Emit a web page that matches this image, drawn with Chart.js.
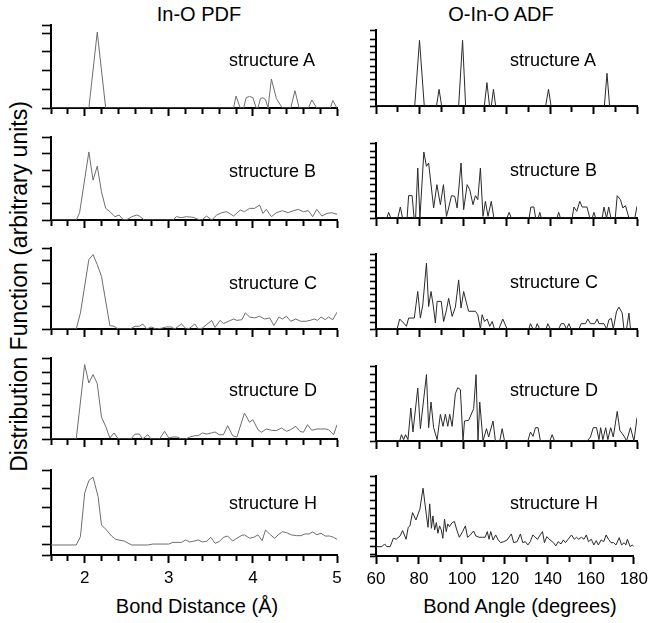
<!DOCTYPE html>
<html>
<head>
<meta charset="utf-8">
<script src="https://cdn.jsdelivr.net/npm/chart.js@4.4.0/dist/chart.umd.min.js"></script>
<style>
  html, body { margin: 0; padding: 0; background: #fff; }
  #page { position: relative; width: 653px; height: 623px; overflow: hidden;
          font-family: "Liberation Sans", Arial, sans-serif; color: #000; }
  #page canvas { position: absolute; }
  .txt { position: absolute; white-space: nowrap; line-height: 1; }
</style>
</head>
<body>
<div id="page">
<div class="txt" style="left:119px; width:160px; top:4px; font-size:20px; text-align:center;">In-O PDF</div>
<div class="txt" style="left:421px; width:160px; top:4px; font-size:20px; text-align:center;">O-In-O ADF</div>
<div class="txt" style="left:97px; width:200px; top:596px; font-size:20px; text-align:center;">Bond Distance (Å)</div>
<div class="txt" style="left:410px; width:220px; top:596px; font-size:20px; text-align:center;">Bond Angle (degrees)</div>
<div class="txt" style="left:-181px; width:400px; top:275px; height:23px; font-size:23px; text-align:center; transform:rotate(-90deg);">Distribution Function (arbitrary units)</div>
</div>
<script>
document.addEventListener('DOMContentLoaded', () => {
	/************  DATA  ************/
	// tick labels
	const pdfTicks = [2, 3, 4, 5];
	const adfTicks = [60, 80, 100, 120, 140, 160, 180];
	const structures = ['A', 'B', 'C', 'D', 'H'];

	// In-O PDF, [distance, value]
	const pdfA = [[1.6,0],[2.05,0],[2.15,4.06],[2.25,0],[3.77,0],[3.8,0.64],[3.85,0],[3.89,0],[3.92,0.55],[3.96,0.62],[4.0,0.55],[4.04,0],[4.06,0],[4.09,0.5],[4.12,0.55],[4.15,0.45],[4.18,0],[4.22,1.55],[4.28,0.5],[4.35,0],[4.45,0],[4.5,0.93],[4.55,0],[4.66,0],[4.7,0.43],[4.76,0],[4.92,0],[4.95,0.4],[5.0,0]];
	const pdfB = [[1.6,0],[1.9,0],[1.94,0.44],[2.05,4.1],[2.1,2.4],[2.15,3.24],[2.2,1.7],[2.25,0.7],[2.3,0.5],[2.36,0.2],[2.41,0.3],[2.46,0],[2.51,0.04],[2.56,0.2],[2.62,0.3],[2.65,0.24],[2.71,0],[3.05,0],[3.09,0.2],[3.15,0.14],[3.21,0.2],[3.29,0.16],[3.35,0.04],[3.39,0],[3.45,0.24],[3.51,0],[3.57,0.3],[3.63,0.44],[3.69,0.5],[3.77,0.24],[3.85,0.6],[3.9,0.5],[3.96,0.7],[4.02,0.7],[4.08,0.9],[4.12,0.4],[4.16,0.64],[4.22,0.2],[4.28,0.44],[4.35,0.56],[4.42,0.44],[4.48,0.56],[4.54,0.64],[4.6,0.5],[4.66,0.56],[4.71,0.2],[4.76,0.64],[4.82,0.24],[4.88,0.4],[4.94,0.44],[5.0,0.34]];
	const pdfC = [[1.6,0],[1.9,0],[1.95,0.71],[2.05,3.06],[2.1,3.28],[2.15,2.84],[2.2,2.32],[2.3,0.15],[2.35,0.12],[2.4,0],[2.54,0],[2.6,0.12],[2.65,0.12],[2.69,0.22],[2.74,0],[2.79,0.09],[2.85,0],[2.91,0.03],[2.97,0.09],[3.03,0.09],[3.07,0],[3.15,0.22],[3.21,0],[3.25,0.04],[3.31,0.22],[3.35,0],[3.4,0.04],[3.51,0.38],[3.55,0.07],[3.61,0.38],[3.65,0.24],[3.71,0.34],[3.77,0.44],[3.81,0.38],[3.87,0.41],[3.91,0.71],[3.96,0.53],[4.02,0.49],[4.08,0.56],[4.14,0.44],[4.2,0.49],[4.25,0.15],[4.31,0.53],[4.35,0.44],[4.4,0.56],[4.45,0.34],[4.51,0.44],[4.57,0.34],[4.63,0.34],[4.68,0.38],[4.73,0.44],[4.77,0.38],[4.81,0.53],[4.86,0.41],[4.9,0.53],[4.95,0.41],[5.0,0.74]];
	const pdfD = [[1.6,0],[1.9,0],[2.0,6.76],[2.05,5.09],[2.1,5.85],[2.15,5.03],[2.2,2.0],[2.25,1.15],[2.3,0.09],[2.35,0.55],[2.4,0],[2.55,0],[2.6,0.45],[2.65,0.45],[2.69,0],[2.75,0.39],[2.79,0],[2.89,0],[2.95,0.7],[3.0,0.09],[3.05,0.18],[3.1,0.18],[3.15,0],[3.2,0],[3.25,0.18],[3.31,0.3],[3.35,0.3],[3.4,0.55],[3.45,0.45],[3.51,0.55],[3.55,0.64],[3.6,0.39],[3.65,0.39],[3.7,1.21],[3.76,0.3],[3.81,0.18],[3.9,2.36],[3.96,1.52],[4.0,1.76],[4.06,0.85],[4.1,0.61],[4.16,0.91],[4.22,0.79],[4.28,0.76],[4.34,1.0],[4.4,0.7],[4.45,0.85],[4.51,1.15],[4.56,0.7],[4.6,0.61],[4.65,1.3],[4.7,0.79],[4.76,0.91],[4.81,0.91],[4.86,0.91],[4.9,0.85],[4.96,0.39],[5.0,1.3]];
	const pdfH = [[1.6,0],[1.9,0],[1.95,0.45],[2.0,2.77],[2.05,3.45],[2.1,3.63],[2.16,2.59],[2.2,1.07],[2.26,0.8],[2.32,0.48],[2.37,0.3],[2.47,0.21],[2.56,0],[2.75,0],[2.81,0.05],[3.0,0.05],[3.05,0.14],[3.15,0.14],[3.2,0.27],[3.25,0.16],[3.3,0.21],[3.35,0.27],[3.4,0.16],[3.45,0.2],[3.5,0.41],[3.55,0.09],[3.6,0.18],[3.65,0.41],[3.7,0.48],[3.76,0.21],[3.81,0.36],[3.87,0.52],[3.9,0.54],[3.96,0.36],[4.01,0.41],[4.06,0.54],[4.11,0.23],[4.15,0.8],[4.21,0.54],[4.26,0.36],[4.3,0.54],[4.35,0.71],[4.4,0.66],[4.46,0.54],[4.52,0.5],[4.57,0.5],[4.62,0.59],[4.67,0.59],[4.71,0.7],[4.76,0.55],[4.81,0.63],[4.86,0.48],[4.91,0.48],[4.96,0.41],[5.0,0.3]];

	// O-In-O ADF, [angle, value]
	const adfA = [[60,0],[77.8,0],[80,9.85],[82.2,0],[87.8,0],[89,2.5],[90.2,0],[98,0],[99.8,9.85],[101.2,0],[109.8,0],[111,3.5],[112.2,0],[113,0],[114,2.5],[115,0],[138,0],[139.3,2.5],[140.5,0],[165,0],[166.2,4.9],[167.4,0],[180,0]];
	const adfB = [[60,0],[65,0],[65.8,0.85],[66.8,0],[70,0],[71.2,1.65],[72.2,0],[74.3,0],[75,3.35],[76.6,3.35],[77.5,0],[78.2,0],[79.2,7.5],[80.2,0],[82,9.9],[83.2,7.75],[84.2,8.25],[86.5,1.5],[88,5],[89.6,2],[91,5],[92.4,0.25],[93.4,1.5],[94.7,3.35],[96.2,3.25],[97.3,1.5],[99.1,8.25],[100.3,1.25],[101.9,5],[103.1,4.25],[104.6,2],[105.7,3.35],[106.8,2.75],[108,7.5],[109.2,0.25],[110.3,2.5],[111.5,0.25],[113,2.5],[114.2,0],[120.2,0],[121.2,0.85],[122.2,0],[130.4,0],[131.2,1.65],[132.6,1.65],[133.4,0],[134.6,0],[135.3,0.85],[136,0],[143.2,0],[144,0.85],[144.8,0],[150.2,0],[151,1.65],[152.3,1],[153.7,2.5],[154.8,1.65],[157,1.65],[158.3,0],[159.4,0],[160.2,0.85],[161,0],[164,0],[164.8,1.65],[166,0],[167,1.65],[168,0],[170,0],[170.9,3.35],[172.4,2.75],[173.5,1.5],[174.7,1.85],[176.3,0],[179,0],[180,1.75]];
	const adfC = [[60,0],[69.7,0],[70.9,1.46],[72.7,0.88],[74,0.39],[75,1.61],[77.6,1.61],[79.2,5.5],[80.4,1.6],[81.5,3.5],[83.2,9.66],[84.2,3.3],[85.3,5.5],[86.3,3.5],[87.3,0.88],[88.1,4.05],[90,4.05],[91.1,1.1],[92.4,2.8],[93.4,4.5],[95,1.85],[96.5,3.2],[98,7.2],[99.1,3.07],[100.3,5.5],[101.6,3.8],[102.6,2.6],[105.7,2.6],[106.8,2.1],[108,0],[108.8,2.1],[109.9,1.1],[111.1,1.46],[112.3,0.39],[113.4,1.1],[114.5,0],[116.5,0],[118.3,1.46],[120.3,0],[130.3,0],[131,0.78],[132.2,0],[133.3,0],[134.1,0.78],[135.3,0],[138.2,0],[139,0.78],[140.2,0],[144,0],[145.1,0.78],[146.4,0.78],[147.6,0],[148.7,0.78],[149.7,0],[153.3,0],[154.3,0.78],[156.3,0.78],[157.4,1.46],[158.6,0.78],[160.5,0.78],[161.7,1.46],[162.5,0.78],[164.8,0.78],[166,0],[167.1,1.37],[168.2,1.56],[169.1,0],[170.6,2.6],[171.7,3.2],[173.2,2.34],[174,0],[175.2,0],[176.3,2.34],[177,0],[180,0]];
	const adfD = [[60,0],[70.9,0],[71.7,0.76],[72.7,0.16],[73.6,0.76],[74.7,0.16],[76,3.96],[77,1.08],[79.2,6.36],[80.4,1.48],[83.2,7.96],[84.2,1.6],[85.3,4.68],[86.5,1.6],[88.1,0.16],[89.6,3.2],[90.8,1.76],[91.9,3.2],[93,1.76],[93.9,3.2],[95,1.76],[96.5,5.68],[97.6,6.4],[98.8,6.16],[100,0],[100.7,2.4],[102.6,2.48],[104.9,3.88],[106,7.96],[106.9,0.08],[107.7,4.68],[109.2,0],[110.8,1.48],[111.8,0.48],[113.8,2.4],[114.9,0],[116.9,0],[118,1.48],[119.1,0],[129.8,0],[131,1.08],[132.2,0.56],[133.3,1.6],[134.5,1.6],[135.6,0],[139.9,0],[141,0.76],[142.1,0],[157.1,0],[158.6,0.48],[159.9,1.6],[161.4,1.6],[162.5,0.16],[163.3,1.6],[164.3,0.16],[165.6,1.6],[166.6,0.16],[167.9,1.6],[169.1,0.48],[170.9,3.56],[172.1,1.28],[173.2,0.88],[174.3,0.48],[175.2,0],[177,1.6],[178.6,0],[180,2.8]];
	const adfH = [[60,0],[62.8,0],[64,0.35],[65,0],[66.6,0],[68.1,1.09],[69.4,0.96],[71.2,1.39],[72.4,2.09],[74,0.96],[75,2.52],[75.8,2.7],[77,4.43],[78.6,3.48],[80.4,4.87],[81.9,7.61],[83.5,4.0],[84.2,2.52],[85,5.57],[85.8,2.39],[86.5,4.0],[87.3,2.17],[88.1,3.13],[88.8,1.74],[89.6,2.7],[90.4,2.17],[91.1,1.09],[91.9,3.57],[92.7,1.96],[93.4,2.96],[94.2,2.61],[95.4,3.13],[96.5,3.26],[97.6,2.17],[98.8,1.22],[100.3,1.96],[101.6,2.7],[102.6,1.22],[103.9,1.52],[105.4,2.04],[106.5,1.39],[108,1.22],[109.6,1.22],[110.8,1.22],[111.8,1.96],[112.6,0.96],[113.4,1.96],[114.5,0.87],[115.7,1.52],[116.9,0.87],[118,0.52],[119.5,0.65],[121,0.87],[123,1.65],[124.1,0.52],[125.7,0.65],[127.2,1.65],[128.3,0.52],[129.5,0.65],[130.7,0.22],[131.8,0.65],[133,1.52],[134.1,1.22],[135.2,0.96],[136.4,1.52],[137.5,1.96],[138.4,0.52],[139.5,1.3],[141,0.87],[142.6,0.52],[143.7,0.09],[144.8,0.65],[146.1,0.35],[147.2,0.87],[148.2,0.52],[149.4,0.96],[151,1.52],[152.3,0.96],[153.3,1.22],[154.3,0.96],[155.6,1.22],[156.8,0.96],[157.9,1.52],[158.9,0.65],[160.2,0.96],[161.4,0.22],[162.5,0.78],[163.5,0.22],[164.8,0.87],[166,0.65],[167.1,1.52],[168.2,0.96],[169.4,0.52],[170.6,0.52],[171.7,0.22],[173.2,1.17],[174.3,0.22],[175.5,0.52],[176.3,0.22],[177,0.96],[178.3,0],[179.3,0.22],[180,0]];

	/************  LAYOUT  ************/
	// padL / padR: canvas margin left and right of the plot area
	const columns = {
		pdf: { left: 51, right: 337, padL: 20, padR: 18, xMin: 1.6, xMax: 5, minorStep: 0.2, yLen: 9, color: '#6e6e6e', ticks: pdfTicks, labelX: 229 },
		adf: { left: 376, right: 637, padL: 18, padR: 16, xMin: 60, xMax: 180, minorStep: 10, yLen: 6, color: '#2a2a2a', ticks: adfTicks, labelX: 510 },
	};

	const panels = [
		{ col: 'pdf', data: pdfA, yMin: 0, yMax: 4.44, top: 25, bottom: 108, base: 66.5 },
		{ col: 'pdf', data: pdfB, yMin: 0, yMax: 5, top: 137, bottom: 220, base: 176.7 },
		{ col: 'pdf', data: pdfC, yMin: 0, yMax: 3.57, top: 248, bottom: 329, base: 289.3 },
		{ col: 'pdf', data: pdfD, yMin: 0, yMax: 7.36, top: 358, bottom: 439, base: 396 },
		{ col: 'pdf', data: pdfH, yMin: -0.535, yMax: 4.01, top: 470, bottom: 555, base: 509.3, last: true },
		{ col: 'adf', data: adfA, yMin: 0, yMax: 11.4, top: 30, bottom: 106, base: 66 },
		{ col: 'adf', data: adfB, yMin: 0, yMax: 11.25, top: 143, bottom: 218, base: 176 },
		{ col: 'adf', data: adfC, yMin: 0, yMax: 11, top: 254, bottom: 329, base: 288.3 },
		{ col: 'adf', data: adfD, yMin: 0, yMax: 9, top: 366, bottom: 441, base: 396 },
		{ col: 'adf', data: adfH, yMin: -1.22, yMax: 9.2, top: 476, bottom: 556, base: 509.3, last: true },
	];

	const MT = 4;       // top margin
	const MB = 12;      // bottom margin (room for tick marks)
	const LABEL_H = 40; // x-scale height on the bottom row
	const TICK = 8;     // major x tick length

	const page = document.getElementById('page');
	const round3 = v => Math.round(v * 1000) / 1000;

	/************  BUILD PANELS  ************/
	const charts = [];
	panels.forEach(p => {
		const c = columns[p.col];
		const w = c.right - c.left;
		const h = p.bottom - p.top;

		// x: a mark at every minor step, a label only at c.ticks
		const n = Math.round((c.xMax - c.xMin) / c.minorStep);
		const xTickValues = [];
		for (let k = 0; k <= n; k++) xTickValues.push(round3(c.xMin + k * c.minorStep));
		const isMajor = v => c.ticks.includes(round3(v));

		// y: a mark at each whole unit, plus both ends of the axis
		const pxPerUnit = h / (p.yMax - p.yMin);
		const yTickValues = [p.yMin];
		for (let v = Math.ceil(p.yMin); v <= p.yMax; v++) {
			if (v > p.yMin && (p.yMax - v) * pxPerUnit > 5) yTickValues.push(v);
		}
		yTickValues.push(p.yMax);

		const xTickOpts = p.last
			? {
				display: true,
				padding: 5,
				color: '#000',
				font: { family: '"Liberation Sans", Arial, sans-serif', size: 17 },
				autoSkip: false,
				maxRotation: 0,
				callback: v => isMajor(v) ? String(round3(v)) : '',
			}
			: { display: false };

		const canvas = document.createElement('canvas');
		canvas.width = w + c.padL + c.padR;
		canvas.height = h + MT + (p.last ? LABEL_H + 2 : MB);
		canvas.style.left = (c.left - c.padL) + 'px';
		canvas.style.top = (p.top - MT) + 'px';
		page.appendChild(canvas);

		charts.push(new Chart(canvas, {
			type: 'line',
			data: {
				datasets: [{
					data: p.data.map(([x, y]) => ({ x, y })),
					borderColor: c.color,
					borderWidth: 1,
					pointRadius: 0,
				}],
			},
			options: {
				responsive: false,
				animation: false,
				events: [],
				layout: { padding: { left: c.padL, right: c.padR, top: MT, bottom: p.last ? 2 : MB - TICK } },
				plugins: {
					legend: { display: false },
					tooltip: { enabled: false },
				},
				scales: {
					x: {
						type: 'linear',
						min: c.xMin,
						max: c.xMax,
						grid: {
							drawOnChartArea: false,
							drawTicks: true,
							tickLength: TICK,
							tickWidth: 2,
							tickColor: '#000',
							// minor ticks: dash keeps only the first 5px
							tickBorderDash: ctx => (ctx.tick && isMajor(ctx.tick.value)) ? [] : [5, 40],
						},
						border: { color: '#000', width: 2 },
						ticks: xTickOpts,
						afterBuildTicks: s => { s.ticks = xTickValues.map(v => ({ value: v })); },
						afterFit: s => { s.height = p.last ? LABEL_H : TICK; },
					},
					y: {
						type: 'linear',
						min: p.yMin,
						max: p.yMax,
						grid: {
							drawOnChartArea: false,
							drawTicks: true,
							tickLength: c.yLen,
							tickWidth: 1.6,
							tickColor: '#000',
						},
						border: { color: '#000', width: 2 },
						ticks: { display: false },
						afterBuildTicks: s => { s.ticks = yTickValues.map(v => ({ value: v })); },
						afterFit: s => { s.width = 0; },
					},
				},
			},
		}));
	});

	// structure labels, added after all charts
	panels.forEach((p, i) => {
		const c = columns[p.col];
		const label = document.createElement('div');
		label.className = 'txt';
		label.style.fontSize = '18px';
		label.style.left = c.labelX + 'px';
		label.style.top = (p.base - 15.2) + 'px';
		label.textContent = 'structure ' + structures[i % 5];
		page.appendChild(label);
	});
});
</script>
</body>
</html>
